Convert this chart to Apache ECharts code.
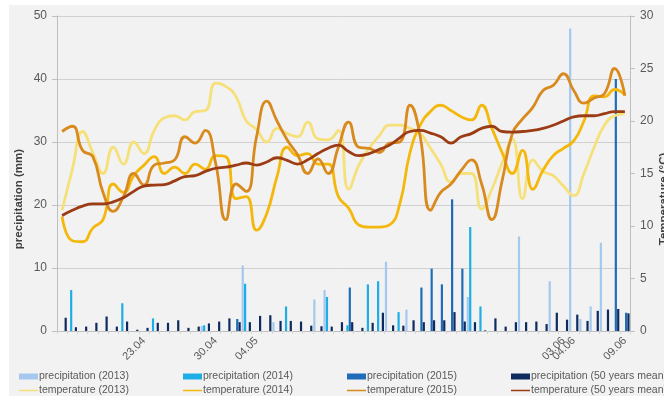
<!DOCTYPE html>
<html>
<head>
<meta charset="utf-8">
<script src="https://cdn.jsdelivr.net/npm/echarts@6/dist/echarts.min.js"></script>
<style>
  html, body { margin: 0; padding: 0; background: #ffffff; }
  #chart { width: 664px; height: 396px; }
</style>
</head>
<body>
<div id="chart"></div>
<script>
// Daily categories, 15 April to 9 June
const dates = [
  '15.04','16.04','17.04','18.04','19.04','20.04','21.04','22.04','23.04','24.04',
  '25.04','26.04','27.04','28.04','29.04','30.04','01.05','02.05','03.05','04.05',
  '05.05','06.05','07.05','08.05','09.05','10.05','11.05','12.05','13.05','14.05',
  '15.05','16.05','17.05','18.05','19.05','20.05','21.05','22.05','23.05','24.05',
  '25.05','26.05','27.05','28.05','29.05','30.05','31.05','01.06','02.06','03.06',
  '04.06','05.06','06.06','07.06','08.06','09.06'
];
// Dates that get a label on the category axis
const labelledDates = ['23.04', '30.04', '04.05', '03.06', '04.06', '09.06'];

// Precipitation (mm)
const precip2013 = [
  0,0,0,0,0,0,0,0,0,0,  0,0,0,0,0.8,0,0,0,10.4,0,
  0,1.4,0,0,0,5.0,6.5,0,0,0,  0,0,11.0,0,3.4,0,0,0,0,0,
  5.4,0,0,0,0,15.0,0,0,7.9,0,  48.0,1.9,3.9,14.0,0,0
];
const precip2014 = [
  0,6.5,0,0,0,0,4.4,0,0,2.0,  0,0,0,0,0.9,0,0,0,7.5,0,
  0,0,3.9,0,0,0,5.4,0,0.9,0,  7.4,7.9,0,3.0,0,0,0,0,0,0,
  16.5,3.9,0,0,0,0,0,0,0,0,  0,0,0,0,0,0
];
const precip2015 = [
  0,0,0,0,0,0,0,0,0,0,  0,0,0,0,0,0,0,1.9,0,0,
  0,0,0,0,0,0,0,0,6.9,0,  0,0,0,0,0,6.9,9.9,7.4,20.9,9.9,
  0,0,0,0,0,0,0,0,0,0,  0,0,0,0,40.0,2.9
];
const precipMean = [
  2.1,0.6,0.7,1.3,2.3,0.7,1.5,0.2,0.5,1.3,  1.3,1.7,0.5,0.7,1.2,1.5,2.0,1.4,1.4,2.4,
  2.5,1.6,1.6,1.5,0.85,0.75,0.7,1.4,1.4,0.5,  1.3,2.9,0.9,0.85,1.7,1.4,1.7,1.7,3.0,1.5,
  1.4,0.1,2.0,0.7,1.4,1.4,1.5,1.1,2.9,1.8,  2.6,1.6,3.2,3.4,3.5,2.8
];

// Temperature (°C)
const temp2013 = [
  11.5,15.4,19.0,17.0,15.0,17.5,15.9,18.0,16.9,19.1,  20.3,20.5,20.1,20.9,21.0,23.6,23.3,22.3,20.0,19.2,
  18.0,19.3,18.8,18.5,19.9,18.3,18.2,19.1,13.5,15.8,  17.4,18.6,19.6,19.6,19.3,18.8,17.4,15.9,14.2,15.0,
  15.0,11.6,13.5,16.0,18.3,12.6,16.3,15.2,14.8,13.8,  12.9,15.0,17.5,19.6,20.5,20.7
];
const temp2014 = [
  10.9,8.6,8.5,9.8,10.6,14.0,13.2,14.8,15.8,16.6,  15.0,15.6,15.0,15.9,15.4,16.7,16.6,12.6,12.8,9.6,
  11.2,14.7,17.5,16.7,16.9,15.9,15.9,12.8,11.7,10.1,  9.9,9.9,10.1,12.1,17.0,19.6,20.9,21.5,21.0,20.4,
  20.1,21.5,19.3,17.0,15.0,17.2,13.5,15.3,16.7,17.4,  18.1,20.0,22.4,22.3,23.0,22.5
];
const temp2015 = [
  19.0,19.5,17.2,16.6,13.2,11.4,12.8,15.0,13.9,15.8,  16.0,16.3,18.5,17.9,19.1,16.0,10.6,14.0,13.3,18.5,
  21.9,20.0,18.2,16.8,15.0,16.4,15.0,17.5,19.9,17.5,  17.4,17.0,17.9,18.0,21.5,18.5,11.5,13.2,14.0,15.3,
  16.3,14.0,10.6,14.3,18.8,20.2,21.3,22.9,23.4,24.5,  22.9,21.7,22.2,22.6,25.0,22.4
];
const tempMean = [
  11.0,11.5,11.9,12.1,12.1,12.3,12.7,13.3,13.8,13.9,  13.95,14.3,14.7,14.8,15.2,15.5,15.6,15.8,16.0,15.8,
  16.1,16.5,16.25,15.9,16.3,16.9,17.4,17.7,17.1,16.7,  16.9,17.3,17.7,18.4,19.0,19.1,18.85,18.5,17.9,18.5,
  18.8,19.3,19.5,19.0,18.95,19.0,19.1,19.3,19.6,20.0,  20.4,20.5,20.5,20.7,20.9,20.9
];

const textColor = '#595959';
const titleColor = '#404040';
const axisColor = '#bfbfbf';
const font = 'Liberation Sans, Arial, sans-serif';
// Thin horizontal stroke used as the legend key of the temperature lines
const lineKey = 'path://M0,0L0.05,0L0,0.05Z M0,2.1H20V3.9H0Z M0,6L0.05,6L0,5.95Z';

const chart = echarts.init(document.getElementById('chart'), null, { renderer: 'canvas' });

function barSeries(name, data, color) {
  return {
    name: name, type: 'bar', data: data, yAxisIndex: 0,
    barWidth: 2.2, barGap: '8%',
    itemStyle: { color: color },
    z: 2
  };
}
function lineSeries(name, data, color) {
  return {
    name: name, type: 'line', data: data, yAxisIndex: 1,
    smooth: 0.5, symbol: 'none', showSymbol: false,
    lineStyle: { color: color, width: 2.8 },
    itemStyle: { color: color },
    z: 3
  };
}
function legendColumn(left, names) {
  return {
    orient: 'vertical', left: left, top: 371, itemGap: 3,
    itemWidth: 19, itemHeight: 6, padding: 0,
    textStyle: { color: textColor, fontSize: 10.5, fontFamily: font, padding: [0, 0, 0, -4] },
    data: names.map(n => ({ name: n, icon: n.startsWith('precip') ? 'rect' : lineKey }))
  };
}
// Vertical axis title, reading bottom to top
function axisTitle(text, x, y) {
  return {
    type: 'text', x: x, y: y, rotation: Math.PI / 2, silent: true,
    style: {
      text: text, fill: titleColor, align: 'center', verticalAlign: 'middle',
      font: 'bold 11.5px ' + font
    }
  };
}

chart.setOption({
  animation: false,
  backgroundColor: '#f2f2f2',
  textStyle: { fontFamily: font },
  graphic: [
    { type: 'rect', shape: { x: 0, y: 0, width: 664, height: 5 }, style: { fill: '#ffffff' }, silent: true },
    { type: 'rect', shape: { x: 0, y: 0, width: 9, height: 396 }, style: { fill: '#ffffff' }, silent: true },
    axisTitle('precipitation (mm)', 19, 199),
    axisTitle('Temperature (°C)', 664, 199)
  ],
  grid: { left: 57, right: 34, top: 16, bottom: 65, containLabel: false, outerBoundsMode: 'none' },
  legend: [
    legendColumn(19, ['precipitation (2013)', 'temperature (2013)']),
    legendColumn(183, ['precipitation (2014)', 'temperature (2014)']),
    legendColumn(347, ['precipitation (2015)', 'temperature (2015)']),
    legendColumn(511, ['precipitation (50 years mean)', 'temperature (50 years mean)'])
  ],
  xAxis: {
    type: 'category', data: dates, boundaryGap: true,
    axisLine: { lineStyle: { color: axisColor } },
    axisTick: { show: true, interval: 0, length: 3, lineStyle: { color: '#d4d4d4' } },
    axisLabel: {
      interval: (idx, val) => labelledDates.includes(val),
      rotate: 45, margin: 8, color: textColor, fontSize: 11, fontFamily: font
    }
  },
  yAxis: [
    {
      type: 'value', min: 0, max: 50, interval: 10, position: 'left',
      axisLine: { show: true, lineStyle: { color: axisColor } },
      axisTick: { show: true, length: 5, lineStyle: { color: axisColor } },
      axisLabel: { color: textColor, fontSize: 12, margin: 10, fontFamily: font },
      splitLine: { show: true, lineStyle: { color: '#d0d0d0', width: 1 } }
    },
    {
      type: 'value', min: 0, max: 30, interval: 5, position: 'right',
      axisLine: { show: true, lineStyle: { color: axisColor } },
      axisTick: { show: true, length: 5, lineStyle: { color: axisColor } },
      axisLabel: { color: textColor, fontSize: 12, margin: 10, fontFamily: font },
      splitLine: { show: false }
    }
  ],
  series: [
    barSeries('precipitation (2013)', precip2013, '#a4c8ee'),
    barSeries('precipitation (2014)', precip2014, '#1eaee6'),
    barSeries('precipitation (2015)', precip2015, '#1f6cb8'),
    barSeries('precipitation (50 years mean)', precipMean, '#0e2a5e'),
    lineSeries('temperature (2013)', temp2013, '#f6e07a'),
    lineSeries('temperature (2014)', temp2014, '#f4b80c'),
    lineSeries('temperature (2015)', temp2015, '#d88a1e'),
    lineSeries('temperature (50 years mean)', tempMean, '#9c3c14')
  ]
});
</script>
</body>
</html>
